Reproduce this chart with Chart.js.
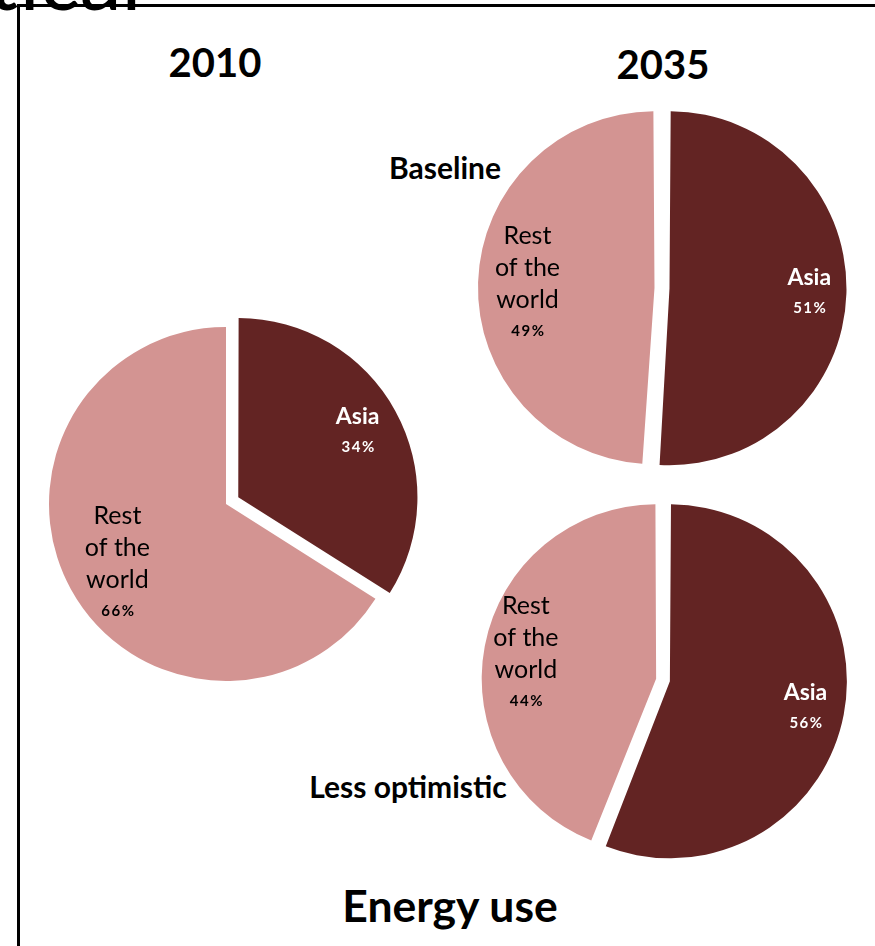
<!DOCTYPE html>
<html>
<head>
<meta charset="utf-8">
<title>Energy use</title>
<script src="https://cdn.jsdelivr.net/npm/chart.js@4.4.1/dist/chart.umd.min.js"></script>
<style>
  html, body { margin: 0; padding: 0; background: #fff; }
  body { position: relative; width: 875px; height: 946px; overflow: hidden; font-family: Lato, "Open Sans", sans-serif; }
  .frame-v { position: absolute; left: 17px; top: 4px; width: 3px; height: 942px; background: #000; }
  .frame-h { position: absolute; left: 17px; top: 4px; width: 858px; height: 3px; background: #000; }
  .txt { position: absolute; line-height: 1; white-space: nowrap; color: #000; font-weight: 700; }
  .slide-title { position: absolute; left: -12px; top: -64px; font-size: 84px; line-height: 1; color: #000; }
  canvas { position: absolute; }
</style>
</head>
<body>
<div class="slide-title">tical</div>
<div class="frame-v"></div>
<div class="frame-h"></div>

<div class="txt" style="left:115px; width:200px; text-align:center; top:42px; font-size:40px;">2010</div>
<div class="txt" style="left:563px; width:200px; text-align:center; top:44px; font-size:40px;">2035</div>
<div class="txt" style="left:345px; width:200px; text-align:center; top:152px; font-size:30px;">Baseline</div>
<div class="txt" style="left:258px; width:300px; text-align:center; top:771px; font-size:30px;">Less optimistic</div>
<div class="txt" style="left:300px; width:300px; text-align:center; top:883px; font-size:44.5px;">Energy use</div>

<canvas id="pie2010" width="420" height="420" style="left:16px; top:294px;"></canvas>
<canvas id="pieBaseline" width="400" height="400" style="left:462px; top:88px;"></canvas>
<canvas id="pieLess" width="400" height="400" style="left:463px; top:480px;"></canvas>

<script>
// shares of energy use, in percent
const regions = ["Asia", "Rest of the world"];
const share2010 = [34, 66];
const share2035Baseline = [51, 49];
const share2035LessOptimistic = [56, 44];

const asiaColor = "#632423";
const restColor = "#d39492";

// how a label is split into lines inside its slice
const labelLines = {
  "Asia": ["Asia"],
  "Rest of the world": ["Rest", "of the", "world"]
};

// writes region name + percentage inside each slice, along its bisector
const sliceLabels = {
  id: "sliceLabels",
  afterDatasetsDraw(chart, args, opts) {
    const ctx = chart.ctx;
    const meta = chart.getDatasetMeta(0);
    const data = chart.data.datasets[0].data;
    meta.data.forEach((arc, i) => {
      const p = arc.getProps(["x", "y", "startAngle", "endAngle", "outerRadius", "circumference"], true);
      const mid = (p.startAngle + p.endAngle) / 2;
      // ArcElement moves a slice by offset / 4 px and grows it a little too
      const off = (arc.options.offset || 0) / 4;
      const grow = off * (1 - Math.sin(Math.min(Math.PI, p.circumference)));
      const r = p.outerRadius + grow;
      const name = chart.data.labels[i];
      const isAsia = name === "Asia";
      const dist = off + r * opts.at[i];
      const cx = p.x + Math.cos(mid) * dist;
      const cy = p.y + Math.sin(mid) * dist;
      const lines = labelLines[name];

      ctx.save();
      ctx.textAlign = "center";
      ctx.textBaseline = "middle";
      ctx.fillStyle = isAsia ? "#ffffff" : "#000000";
      let y;
      if (isAsia) {
        ctx.font = "700 23px Lato";
        y = cy - 15;
        ctx.fillText(lines[0], cx, y);
        y += 31;
      } else {
        ctx.font = "400 25px Lato";
        y = cy - 48;
        lines.forEach((line) => {
          ctx.fillText(line, cx, y);
          y += 32;
        });
        y -= 1;
      }
      ctx.font = "700 15px Lato";
      ctx.letterSpacing = "1.5px";
      ctx.fillText(data[i] + "%", cx + 1, y);
      ctx.restore();
    });
  }
};

function createPie(id, values, offsets, radius, labelAt) {
  const ctx = document.getElementById(id).getContext("2d");
  return new Chart(ctx, {
    type: "pie",
    data: {
      labels: regions,
      datasets: [{
        data: values,
        backgroundColor: [asiaColor, restColor],
        borderWidth: 0,
        offset: offsets
      }]
    },
    options: {
      responsive: false,
      animation: false,
      radius: radius,
      layout: { padding: 0 },
      events: [],
      plugins: {
        legend: { display: false },
        tooltip: { enabled: false },
        sliceLabels: { at: labelAt } // label distance as a fraction of the radius
      }
    },
    plugins: [sliceLabels]
  });
}

createPie("pie2010", share2010, [56, 0], 177, [0.76, 0.70]);
createPie("pieBaseline", share2035Baseline, [30, 30], 169.5, [0.79, 0.72]);
createPie("pieLess", share2035LessOptimistic, [28, 28], 170, [0.78, 0.76]);
</script>
</body>
</html>
